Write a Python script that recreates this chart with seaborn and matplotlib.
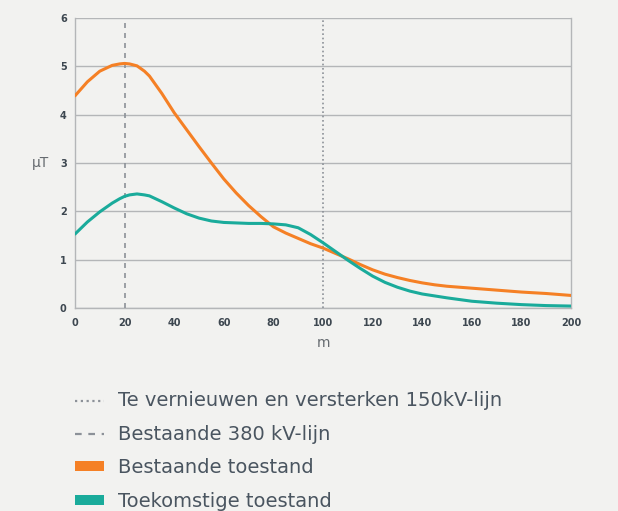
import numpy as np
import pandas as pd
import matplotlib
matplotlib.use("Agg")
import matplotlib.pyplot as plt
from matplotlib.lines import Line2D
from matplotlib.patches import Patch
import seaborn as sns

# Distance from the line (m)
afstand = [0, 5, 10, 15, 18, 20, 22, 25, 28, 30, 35, 40, 45, 50, 55, 60, 65, 70, 75, 80, 85, 90, 95,
           100, 105, 110, 115, 120, 125, 130, 135, 140, 145, 150, 160, 170, 180, 190, 200]
# Bestaande toestand (uT)
bestaand = [4.39, 4.68, 4.90, 5.02, 5.05, 5.06, 5.05, 5.01, 4.90, 4.80, 4.44, 4.04, 3.69, 3.34, 3.00, 2.67, 2.38, 2.12, 1.89, 1.68, 1.55, 1.44, 1.33,
            1.24, 1.13, 1.02, 0.90, 0.79, 0.70, 0.63, 0.57, 0.52, 0.48, 0.45, 0.41, 0.37, 0.33, 0.30, 0.26]
# Toekomstige toestand (uT)
toekomst = [1.53, 1.78, 1.99, 2.17, 2.26, 2.31, 2.34, 2.36, 2.34, 2.32, 2.20, 2.07, 1.95, 1.86, 1.80, 1.77, 1.76, 1.75, 1.75, 1.74, 1.72, 1.66, 1.52,
            1.35, 1.17, 0.99, 0.82, 0.66, 0.53, 0.43, 0.35, 0.29, 0.25, 0.21, 0.14, 0.10, 0.07, 0.05, 0.04]

x_ticks = [0, 20, 40, 60, 80, 100, 120, 140, 160, 180, 200]
y_ticks = [0, 1, 2, 3, 4, 5, 6]
lijn_380 = 20
lijn_150 = 100

legend_labels = ["Te vernieuwen en versterken 150kV-lijn", "Bestaande 380 kV-lijn",
                 "Bestaande toestand", "Toekomstige toestand"]

bg = "#f2f2f0"
oranje = "#f58025"
groen = "#1aab9b"
grijs = "#8c9198"
tekst = "#3d4750"

sns.set_theme(style="white")
plt.rcParams["font.family"] = ["DejaVu Sans"]

df = pd.DataFrame({"m": afstand, "bestaand": bestaand, "toekomst": toekomst})

fig = plt.figure(figsize=(6.18, 5.11), dpi=100, facecolor=bg)
ax = fig.add_axes([75 / 618, 1 - 308 / 511, (571 - 75) / 618, (308 - 18) / 511])
ax.set_facecolor(bg)

sns.lineplot(data=df, x="m", y="bestaand", ax=ax, color=oranje, linewidth=2.2, zorder=4)
sns.lineplot(data=df, x="m", y="toekomst", ax=ax, color=groen, linewidth=2.2, zorder=4)

ax.axvline(lijn_380, color=grijs, linestyle=(0, (3, 3)), linewidth=1.2, zorder=3)
ax.axvline(lijn_150, color=grijs, linestyle=(0, (1, 1.6)), linewidth=1.2, zorder=3)

ax.set_xlim(0, 200)
ax.set_ylim(0, 6)
ax.set_xticks(x_ticks)
ax.set_yticks(y_ticks)
ax.grid(axis="y", color="#b4b6b8", linewidth=1)
ax.set_axisbelow(True)

for side in ["left", "bottom", "right"]:
    ax.spines[side].set_color("#b4b6b8")
    ax.spines[side].set_linewidth(1)
ax.spines["top"].set_visible(False)

ax.tick_params(axis="x", length=4, color="#b4b6b8", width=1, pad=3)
ax.tick_params(axis="y", length=0, pad=6)
for lab in ax.get_xticklabels() + ax.get_yticklabels():
    lab.set_fontsize(7)
    lab.set_fontweight("bold")
    lab.set_color(tekst)

ax.set_xlabel("m", fontsize=10, color="#666b70", labelpad=6)
ax.set_ylabel("µT", fontsize=10, color="#666b70", rotation=0, labelpad=14, va="center")

handles = [
    Line2D([0], [0], color=grijs, linestyle=(0, (1, 1.6)), linewidth=1.6),
    Line2D([0], [0], color=grijs, linestyle=(0, (3, 3)), linewidth=1.6),
    Patch(facecolor=oranje, edgecolor="none"),
    Patch(facecolor=groen, edgecolor="none"),
]
leg = fig.legend(handles, legend_labels, loc="upper left",
                 bbox_to_anchor=(57 / 618, 1 - 374 / 511), frameon=False,
                 fontsize=14, handlelength=1.5, handleheight=0.42,
                 handletextpad=0.72, labelspacing=0.74)
for t in leg.get_texts():
    t.set_color("#4a5560")

fig.savefig("out.png", dpi=100, facecolor=bg)
